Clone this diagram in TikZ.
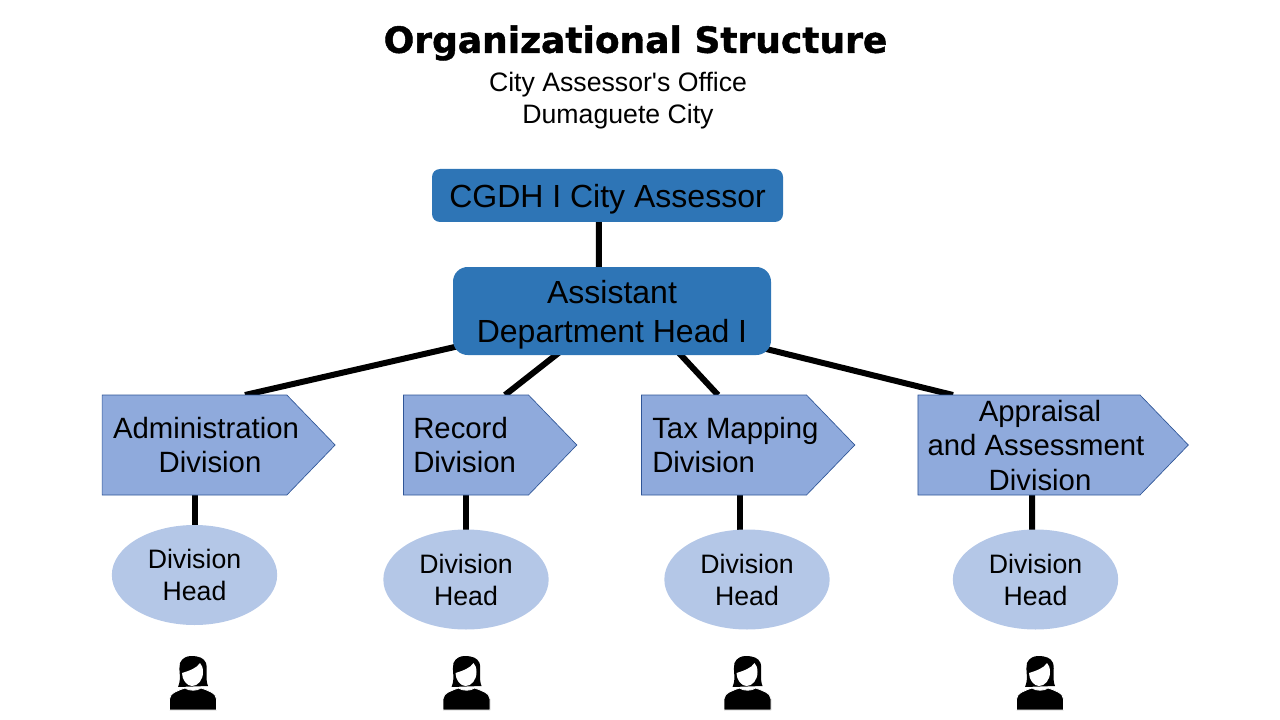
\documentclass[tikz,border=0pt]{standalone}
\usepackage{fontspec}
\setmainfont{Liberation Sans}
\newfontfamily\titlefont[FakeBold=1.2]{DejaVu Sans Bold}
\usepackage{xcolor}
\usetikzlibrary{shapes,calc}
\usetikzlibrary{positioning}
\usetikzlibrary{backgrounds}
\definecolor{topblue}{HTML}{2E75B6}
\definecolor{divblue}{HTML}{8FAADC}
\definecolor{divline}{HTML}{2F5597}
\definecolor{headblue}{HTML}{B4C7E7}
\newcommand{\lowerline}[1]{\raisebox{-3pt}[\height][\depth]{#1}}
\tikzset{
	topbox/.style={fill=topblue,align=center,inner sep=0pt,font=\fontsize{24}{29}\selectfont},
	divbox/.style={signal,signal to=east,signal pointer angle=92,fill=divblue,draw=divline,line width=0.5pt,inner sep=0pt,minimum width=174.75pt,minimum height=75pt},
	divtext/.style={inner sep=0pt,font=\fontsize{22}{25.6}\selectfont},
	headnode/.style={ellipse,fill=headblue,align=center,inner sep=0pt,minimum width=124pt,minimum height=75pt,font=\fontsize{20}{24}\selectfont},
	conn/.style={line width=4.5pt,black},
	person/.pic={
		\fill[black] (-15,-23) .. controls (-11,-32) and (-15,-40) .. (-13,-47) .. controls (-11,-52) and (-6,-54) .. (-2,-54) .. controls (6,-54) and (11,-52) .. (13,-47) .. controls (15,-40) and (12,-31) .. (15,-24) -- cycle;
		\fill[black,draw=white,line width=0.6pt] (-23.5,0) -- (-23.5,-11) .. controls (-23.5,-17) and (-14,-20) .. (-8,-22) .. controls (-4,-19) and (4,-19) .. (8,-22) .. controls (14,-20) and (23.5,-17) .. (23.5,-11) -- (23.5,0) -- cycle;
		\fill[white] (-11,-37) .. controls (-11,-30) and (-6,-24) .. (-1,-24) .. controls (5,-24) and (10,-30) .. (10,-38) .. controls (10,-42) and (9,-45) .. (7,-47) .. controls (4,-42) and (-4,-39) .. (-11,-37) -- cycle;
	}
}
\begin{document}
\begin{tikzpicture}[x=0.75pt,y=-0.75pt]
	\useasboundingbox (0,0) rectangle (1280,720);
	
	% titles
	\node[inner sep=0pt,font=\titlefont\fontsize{27}{32}\selectfont] (title) at (635.5,43) {Organizational Structure};
	\node[inner sep=0pt,align=center,font=\fontsize{20}{24}\selectfont] (subtitle) at (618,101) {City Assessor\textquotesingle s Office\\Dumaguete City};
	
	% top boxes
	\node[topbox,rounded corners=6pt,minimum width=263.25pt,minimum height=39.75pt] (cgdh) at (607.5,195.5) {\lowerline{CGDH I City Assessor}};
	\node[topbox,rounded corners=11pt,minimum width=238.5pt,minimum height=66pt] (adh) at (612,311) {\lowerline{Assistant}\\\lowerline{Department Head I}};
	
	% division boxes
	\node[divbox] (admin) at (194.5,445) {};
	\node[divbox,minimum width=130pt] (record) at (466,445) {};
	\node[divbox,minimum width=160pt] (tax) at (724,445) {};
	\node[divbox,minimum width=202.75pt] (appraisal) at (1029,445) {};
	
	% division texts
	\node[divtext,align=center] (admintext) at (206,445) {Administration\\\hspace*{6pt}Division};
	\node[divtext,align=left,anchor=west] (recordtext) at (413,445) {Record\\Division};
	\node[divtext,align=left,anchor=west] (taxtext) at (652,445) {Tax Mapping\\Division};
	\node[divtext,align=center] (appraisaltext) at (1036,445.5) {\hspace*{6pt}Appraisal\\and Assessment\\\hspace*{6pt}Division};
	
	% division heads
	\node[headnode] (adminhead) at (194.5,575) {Division\\Head};
	\node[headnode] (recordhead) at (466,579.5) {Division\\Head};
	\node[headnode] (taxhead) at (747,579.5) {Division\\Head};
	\node[headnode] (appraisalhead) at (1035.5,579.5) {Division\\Head};
	
	% people
	\pic (adminperson) at (193,710) {person};
	\pic (recordperson) at (466.5,710) {person};
	\pic (taxperson) at (747.5,710) {person};
	\pic (appraisalperson) at (1040,710) {person};
	
	\begin{pgfonlayer}{background}
		% connections of adh
		\draw[conn] ([xshift=-6.4pt]cgdh.center) -- ([xshift=-9.75pt]adh.center);
		\draw[conn] (adh.center) -- ($(admin.center)+(50.5,-50)$);
		\draw[conn] (adh.center) -- ($(record.center)+(39,-50)$);
		\draw[conn] ([xshift=21pt]adh.center) -- ($(tax.center)+(-6,-50)$);
		\draw[conn] (adh.center) -- ($(appraisal.center)+(-76,-50)$);
		%connections of division boxes
		\draw[conn] (admin.center) -- (adminhead.center);
		\draw[conn] (record.center) -- (recordhead.center);
		\draw[conn] ([xshift=12pt]tax.center) -- ([xshift=-5.25pt]taxhead.center);
		\draw[conn] ([xshift=2.25pt]appraisal.center) -- ([xshift=-2.6pt]appraisalhead.center);
	\end{pgfonlayer}
	
\end{tikzpicture}
\end{document}
